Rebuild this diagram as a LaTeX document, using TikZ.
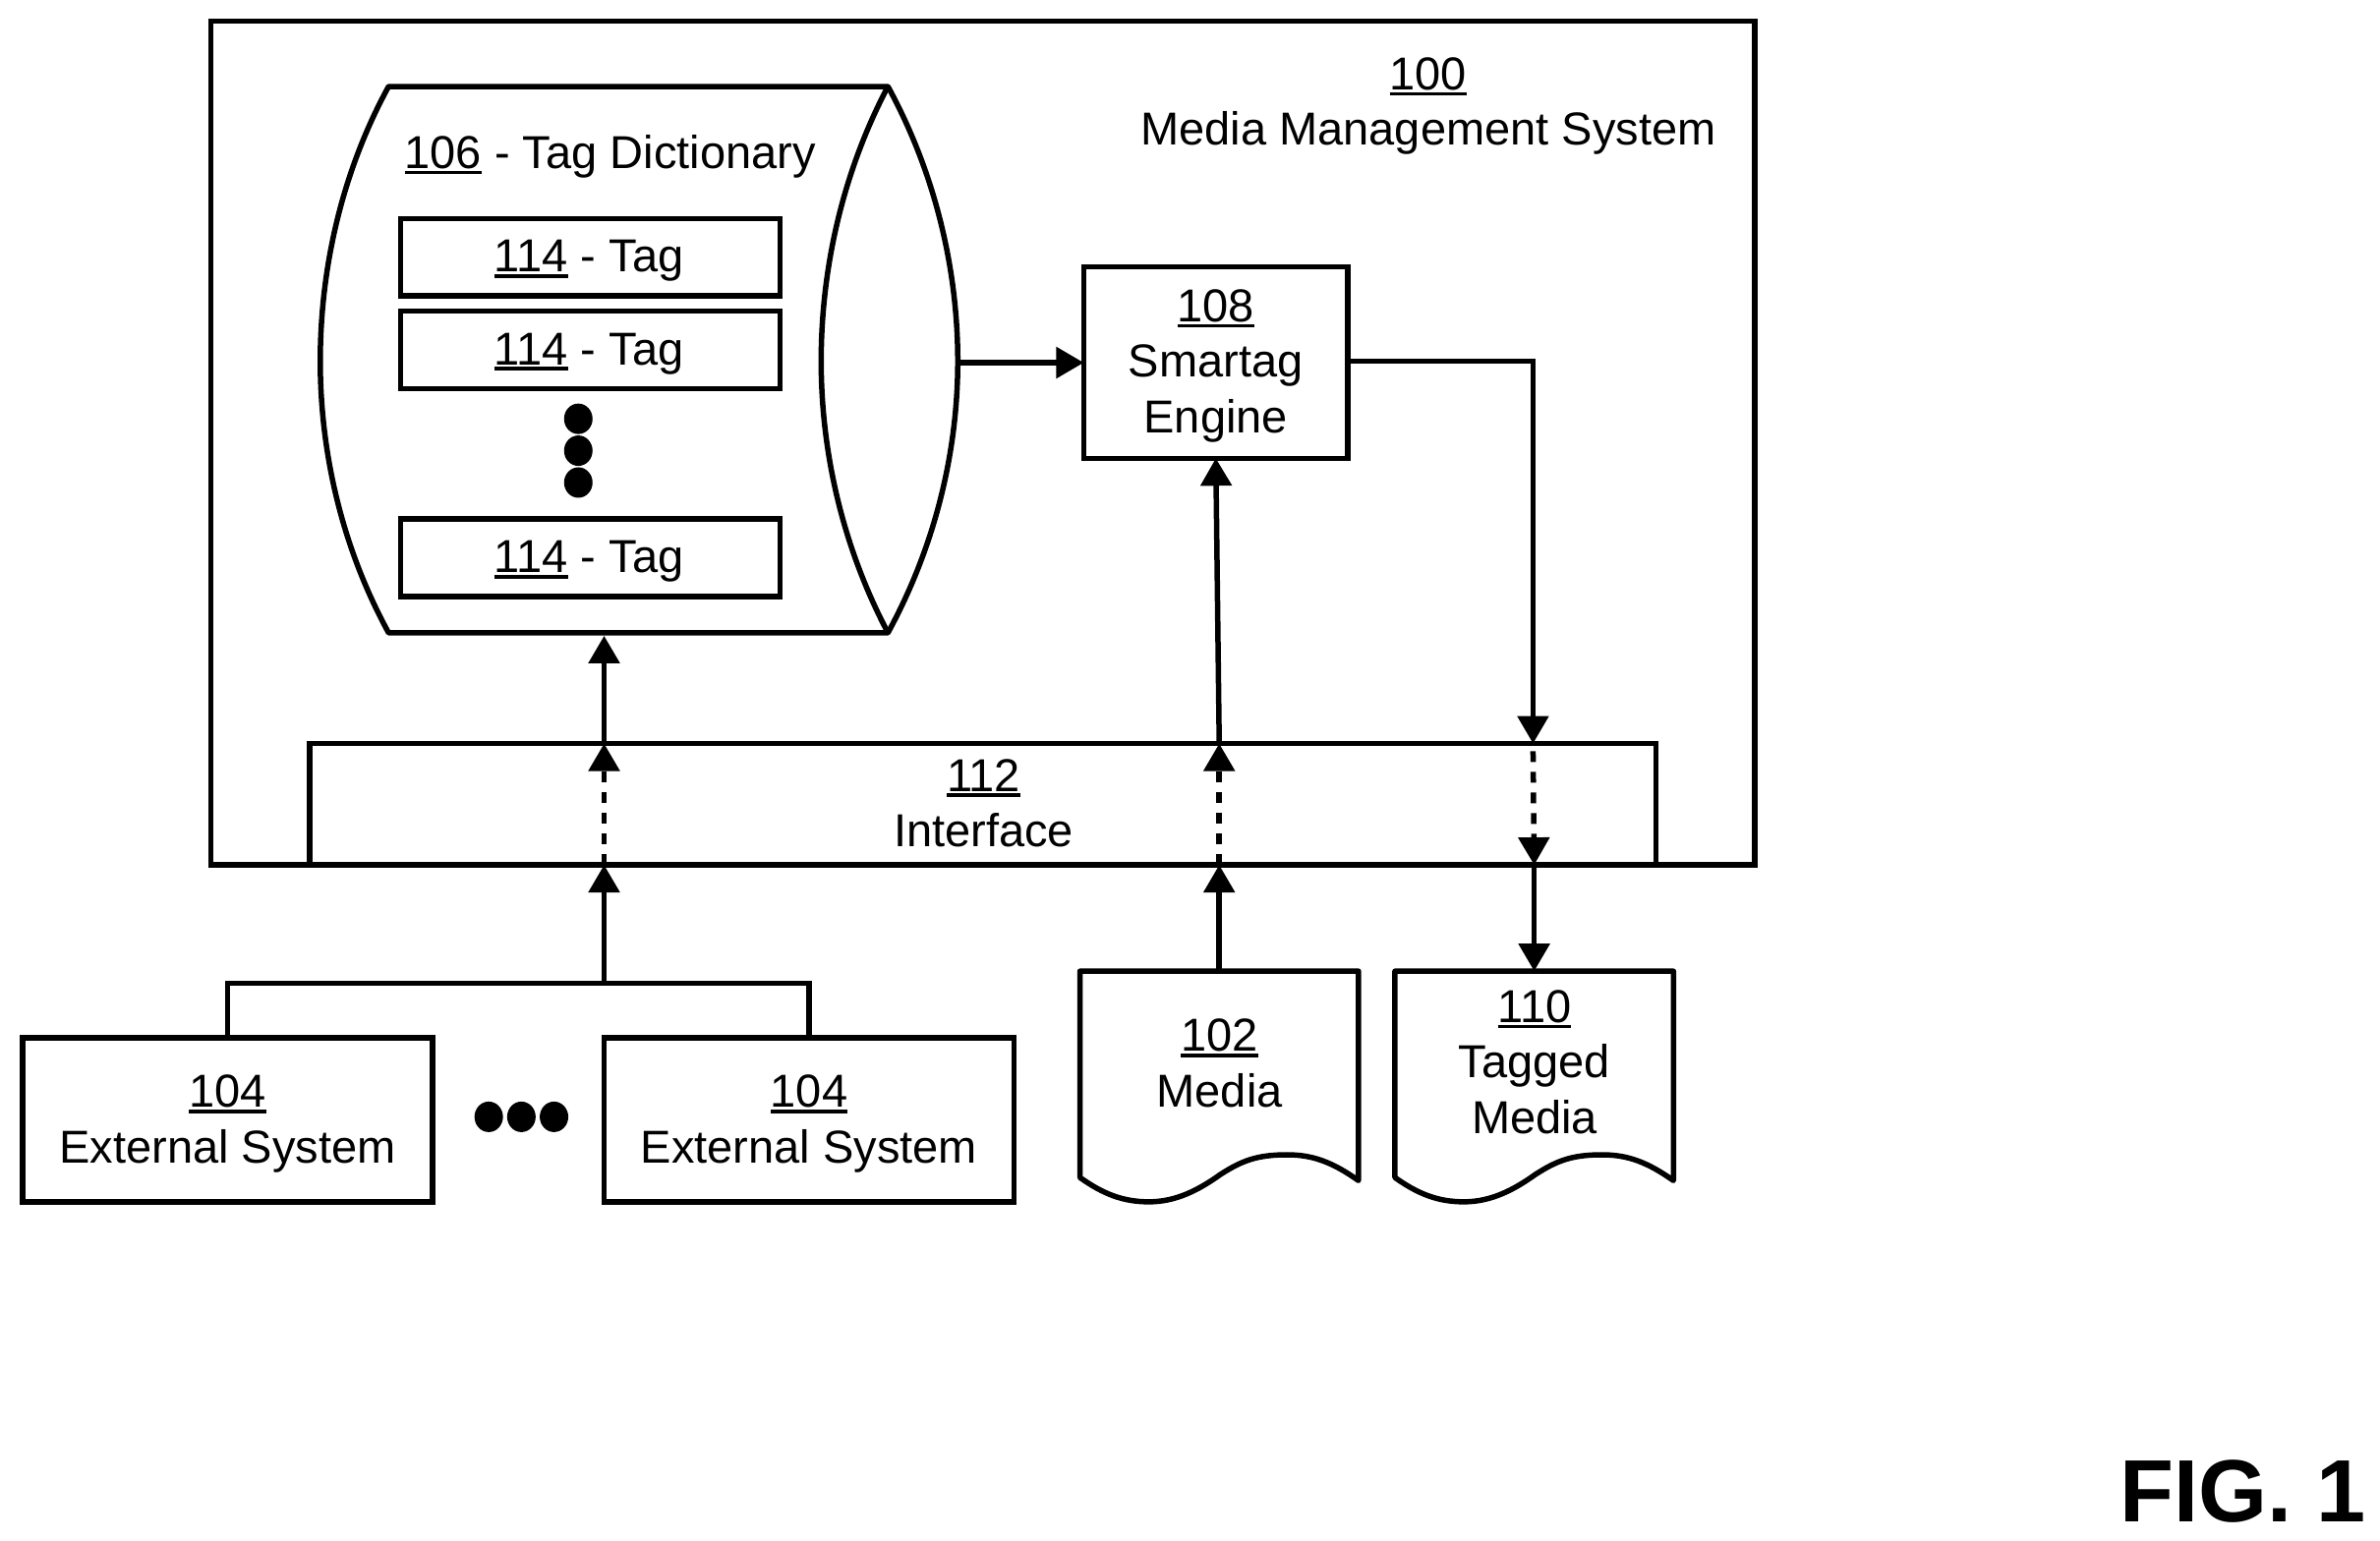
\documentclass[tikz,border=0pt]{standalone}
\usepackage{fontspec}
\setmainfont{Liberation Sans}
\usetikzlibrary{arrows.meta,fit,calc}
\newcommand\ulnum[1]{\leavevmode\setbox0\hbox{#1}\rlap{\rule[-6pt]{\wd0}{3.6pt}}\box0\relax}
\tikzset{
  lw/.style={line width=5.5pt},
  boxed/.style={draw=black,lw,inner sep=0pt,outer sep=0pt,rectangle},
  ghost/.style={inner sep=0pt,outer sep=0pt,rectangle},
  lbl/.style={font=\fontsize{47}{56.5}\selectfont,align=center,inner sep=0pt,text=black},
  flow/.style={draw=black,lw,-{Triangle[length=28pt,width=31pt]}},
  flowdash/.style={flow,dash pattern=on 11pt off 10pt},
  plain/.style={draw=black,lw},
  dot/.style={ellipse,fill=black,inner sep=0pt,minimum width=29pt,minimum height=31pt,draw=none},
  outline/.style={draw=black,lw,line join=round,fill=white},
}
\usetikzlibrary{shapes.geometric}
\begin{document}
\begin{tikzpicture}[x=1.544pt,y=-1.544pt]
\useasboundingbox (0,0) rectangle (1568,1015.54);
\fill[white] (0,0) rectangle (1568,1015.54);
% outer system and interface
\node[boxed,fit={(139,14)(1156,570)}] (sys) {};
\node[lbl] (syslabel) at (941,70) {\ulnum{100}\\Media Management System};
\node[boxed,fit={(204,490)(1091,570)}] (ifc) {};
\node[lbl] (ifclabel) at (648,529.2) {\ulnum{112}\\Interface};
% tag dictionary
\node[ghost,fit={(211,57)(631,419)}] (dict) {};
\draw[outline] (256,57) .. controls (226,112) and (211,175) .. (211,238)
  .. controls (211,300) and (226,362) .. (256,417) -- (585,417)
  .. controls (615,362) and (631,300) .. (631,238)
  .. controls (631,175) and (615,112) .. (585,57) -- cycle;
\draw[plain] (585,57) .. controls (556,112) and (541,175) .. (541,238)
  .. controls (541,300) and (556,362) .. (585,417);
\node[lbl] (dictlabel) at (402,103) {\ulnum{106} - Tag Dictionary};
\node[boxed,fit={(264,144)(514,195)}] (tag1) {};
\node[boxed,fit={(264,205)(514,256)}] (tag2) {};
\node[boxed,fit={(264,342)(514,393)}] (tag3) {};
\node[lbl] (tag1label) at (388,172) {\ulnum{114} - Tag};
\node[lbl] (tag2label) at (388,233) {\ulnum{114} - Tag};
\node[lbl] (tag3label) at (388,370) {\ulnum{114} - Tag};
\node[dot] (vd1) at (381,276) {};
\node[dot] (vd2) at (381,297) {};
\node[dot] (vd3) at (381,318) {};
% smartag engine
\node[boxed,fit={(714,176)(888,302)}] (engine) {};
\node[lbl] (enginelabel) at (801,241) {\ulnum{108}\\Smartag\\Engine};
% external systems
\node[boxed,fit={(15,684)(285,792)}] (ext1) {};
\node[boxed,fit={(398,684)(668,792)}] (ext2) {};
\node[lbl] (ext1label) at (150,740.5) {\ulnum{104}\\External System};
\node[lbl] (ext2label) at (533,740.5) {\ulnum{104}\\External System};
\node[dot] (hd1) at (322,736) {};
\node[dot] (hd2) at (343.5,736) {};
\node[dot] (hd3) at (365,736) {};
% documents
\node[ghost,fit={(711.5,640)(895,793)}] (media) {};
\draw[outline] (711.5,640) -- (895,640) -- (895,778)
  .. controls (878,766) and (865,761) .. (848,761)
  .. controls (828,761) and (818,765) .. (804,774)
  .. controls (790,784) and (775,792) .. (757,792)
  .. controls (740,792) and (727,787) .. (711.5,776) -- cycle;
\node[lbl] (medialabel) at (803.5,700.5) {\ulnum{102}\\Media};
\node[ghost,fit={(919,640)(1102.5,793)}] (tagged) {};
\draw[outline] (919,640) -- (1102.5,640) -- (1102.5,778)
  .. controls (1085.5,766) and (1072.5,761) .. (1055.5,761)
  .. controls (1035.5,761) and (1025.5,765) .. (1011.5,774)
  .. controls (997.5,784) and (982.5,792) .. (964.5,792)
  .. controls (947.5,792) and (934.5,787) .. (919,776) -- cycle;
\node[lbl] (taggedlabel) at (1011,700) {\ulnum{110}\\Tagged\\Media};
% connectors
\coordinate (busmid) at (398,648);
\draw[plain] (ext1.north) |- (busmid) -| (ext2.north);
\draw[flow] (busmid) -- (busmid |- ifc.south);
\draw[flowdash] (busmid |- ifc.south) -- (busmid |- ifc.north);
\draw[flow] (busmid |- ifc.north) -- (busmid |- dict.south);
\draw[flow] (dict.east |- engine.west) -- (engine.west);
\draw[flow] (media.north) -- (media.north |- ifc.south);
\draw[flowdash] (media.north |- ifc.south) -- (media.north |- ifc.north);
\draw[flow] (media.north |- ifc.north) -- (engine.south);
\coordinate (outx) at (1010,238);
\draw[flow] (engine.east |- outx) -- (outx) -- (outx |- ifc.north);
\draw[flowdash] ($(outx |- ifc.north)+(0,5)$) -- (tagged.north |- ifc.south);
\draw[flow] (tagged.north |- ifc.south) -- (tagged.north);
% figure label
\node[font=\bfseries\fontsize{90}{90}\selectfont,inner sep=0pt,anchor=base east,text=black] (figlabel) at (1559,1003) {FIG. 1};
\end{tikzpicture}
\end{document}
